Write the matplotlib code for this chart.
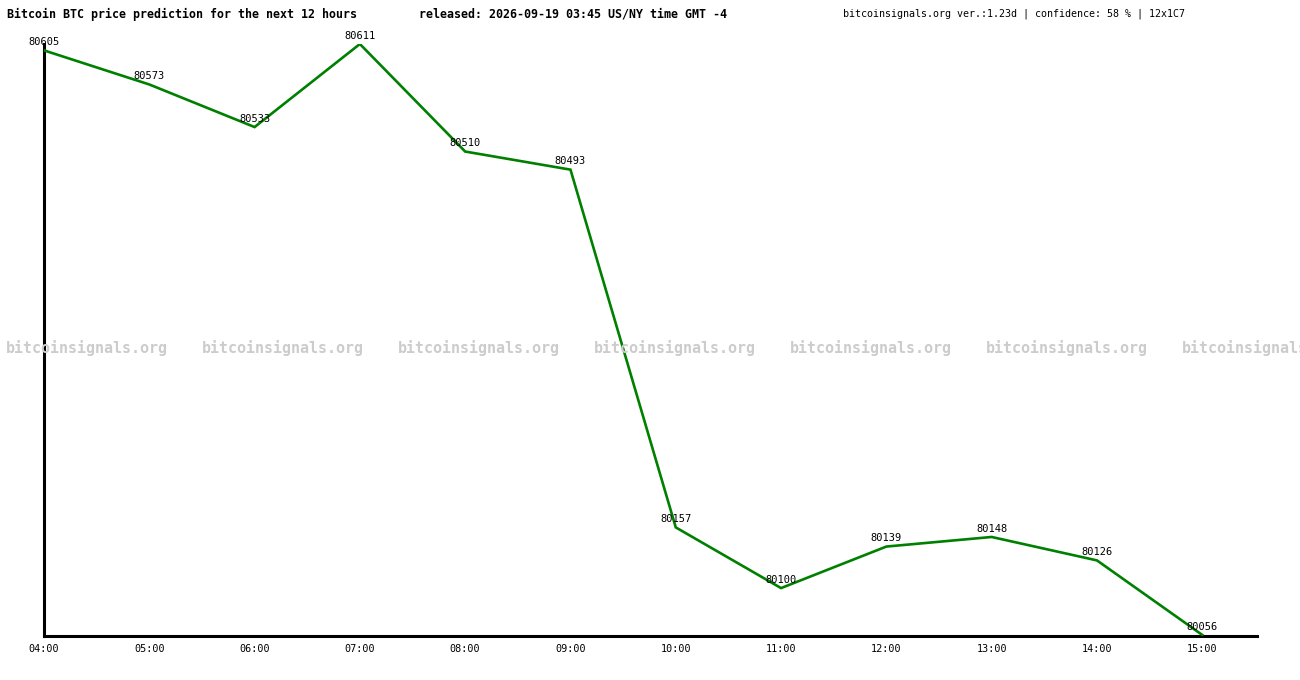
import matplotlib
matplotlib.use("Agg")
import matplotlib.pyplot as plt

hours = ["04:00", "05:00", "06:00", "07:00", "08:00", "09:00",
         "10:00", "11:00", "12:00", "13:00", "14:00", "15:00"]
prices = [80605, 80573, 80533, 80611, 80510, 80493,
          80157, 80100, 80139, 80148, 80126, 80056]

mono = "DejaVu Sans Mono"
W, H = 1300, 680

fig = plt.figure(figsize=(13, 6.8), dpi=100)
ax = fig.add_axes([44 / W, 1 - 636 / H, (1257 - 44) / W, (636 - 44) / H])

xs = list(range(len(hours)))
ax.plot(xs, prices, color="#008000", lw=1.9, zorder=3, solid_joinstyle="miter")

for x, p in zip(xs, prices):
    ax.annotate(str(p), (x, p), xytext=(0, 6), textcoords="offset points",
                ha="center", va="center", fontsize=7.5, family=mono, zorder=4)

ax.set_xlim(0, 11.52)
ax.set_ylim(80055, 80611)
ax.set_xticks(xs)
ax.set_xticklabels(hours, family=mono, fontsize=7.3)
ax.set_yticks([])
ax.tick_params(axis="x", length=0, pad=6)
for s in ["top", "right"]:
    ax.spines[s].set_visible(False)
for s in ["left", "bottom"]:
    ax.spines[s].set_linewidth(2.2)
    ax.spines[s].set_color("black")

# watermark row (the last one runs off the right edge, as in the original)
for i in range(7):
    fig.text((6 + 196 * i) / W, 1 - 348 / H, "bitcoinsignals.org", family=mono,
             fontsize=10.8, weight="bold", color="#cccccc", ha="left", va="center",
             zorder=1)

fig.text(7 / W, 1 - 14 / H, "Bitcoin BTC price prediction for the next 12 hours",
         family=mono, weight="bold", fontsize=8.4, ha="left", va="center")
fig.text(419 / W, 1 - 14 / H, "released: 2026-09-19 03:45 US/NY time GMT -4",
         family=mono, weight="bold", fontsize=8.4, ha="left", va="center")
fig.text(843 / W, 1 - 14 / H,
         "bitcoinsignals.org ver.:1.23d | confidence: 58 % | 12x1C7",
         family=mono, fontsize=7.2, ha="left", va="center")

fig.savefig("out.png", dpi=100)
